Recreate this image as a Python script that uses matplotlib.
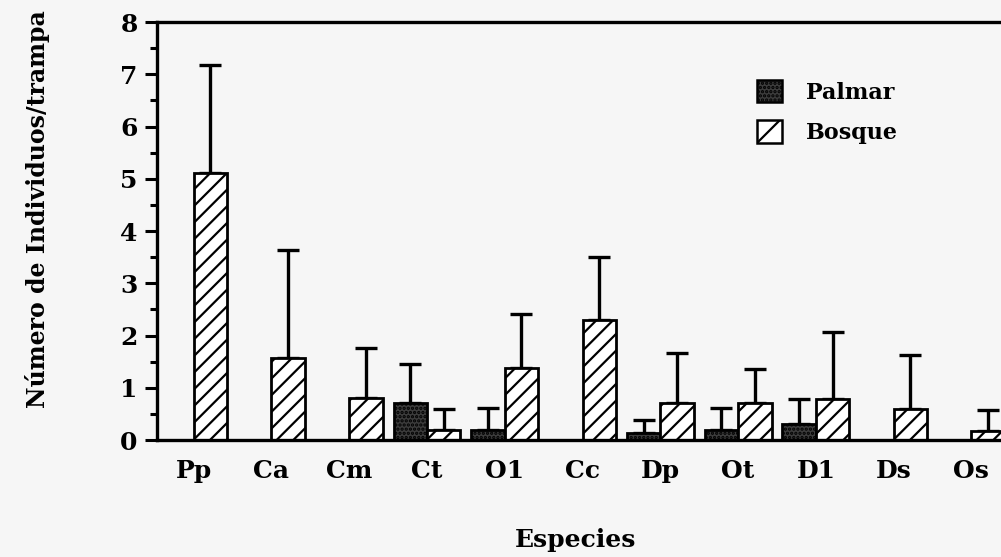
import numpy as np
import matplotlib
matplotlib.use('Agg')
import matplotlib.pyplot as plt
from matplotlib.patches import Patch
from matplotlib.ticker import MultipleLocator

# datos
especies = ['Pp', 'Ca', 'Cm', 'Ct', 'O1', 'Cc', 'Dp', 'Ot', 'D1', 'Ds', 'Os']
palmar = [0, 0, 0, 0.70, 0.19, 0, 0.13, 0.19, 0.30, 0, 0]
palmar_err = [0, 0, 0, 0.76, 0.42, 0, 0.25, 0.42, 0.48, 0, 0]
bosque = [5.11, 1.57, 0.80, 0.19, 1.37, 2.30, 0.70, 0.70, 0.78, 0.59, 0.17]
bosque_err = [2.06, 2.06, 0.96, 0.41, 1.04, 1.21, 0.96, 0.65, 1.28, 1.04, 0.40]

plt.rcParams['font.family'] = ['DejaVu Serif']
plt.rcParams['font.weight'] = 'bold'
plt.rcParams['axes.labelweight'] = 'bold'
plt.rcParams['hatch.linewidth'] = 1.6

fondo = '#f6f6f6'
fig = plt.figure(figsize=(10.01, 5.57), dpi=100, facecolor=fondo)
ax = fig.add_axes([0.157, 0.21, 0.86, 0.7505])
ax.set_facecolor(fondo)

x = np.arange(len(especies))
w = 0.43
lw = 2.0

for i in x:
    if palmar[i] > 0:
        ax.bar(i - w / 2, palmar[i], w, color='#3c3c3c', edgecolor='black',
               hatch='....', linewidth=lw, zorder=2)
        ax.errorbar(i - w / 2, palmar[i], yerr=[[0], [palmar_err[i]]],
                    fmt='none', ecolor='black', elinewidth=2.4,
                    capsize=8, capthick=2.4, zorder=1)
    ax.bar(i + w / 2, bosque[i], w, color='white', edgecolor='black',
           hatch='//', linewidth=lw, zorder=2)
    ax.errorbar(i + w / 2, bosque[i], yerr=[[0], [bosque_err[i]]],
                fmt='none', ecolor='black', elinewidth=2.4,
                capsize=8, capthick=2.4, zorder=1)

ax.set_xlim(-0.47, 10.6)
ax.set_ylim(0, 8)
ax.yaxis.set_major_locator(MultipleLocator(1))
ax.yaxis.set_minor_locator(MultipleLocator(0.5))
ax.set_xticks(x)
ax.set_xticklabels(especies)

for s in ['left', 'bottom', 'top']:
    ax.spines[s].set_linewidth(2.4)
ax.spines['right'].set_visible(False)

ax.tick_params(axis='y', which='major', direction='out', length=9, width=2.2,
               labelsize=18, pad=5)
ax.tick_params(axis='y', which='minor', direction='out', length=5, width=2.2)
ax.tick_params(axis='x', length=0, labelsize=18, pad=14)

ax.set_xlabel('Especies', fontsize=18, labelpad=32)
ax.xaxis.label.set_x(0.4855)
ax.set_ylabel('Número de Individuos/trampa', fontsize=17, labelpad=51)
ax.yaxis.label.set_y(0.553)

handles = [Patch(facecolor='#3c3c3c', edgecolor='black', hatch='....', linewidth=1.8),
           Patch(facecolor='white', edgecolor='black', hatch='/', linewidth=1.8)]
ax.legend(handles, ['Palmar', 'Bosque'], loc='upper left',
          bbox_to_anchor=(0.674, 0.91), frameon=False, fontsize=16,
          handlelength=1.1, handleheight=1.2, handletextpad=1.1, labelspacing=0.75)

plt.savefig('out.png', dpi=100, facecolor=fondo)
